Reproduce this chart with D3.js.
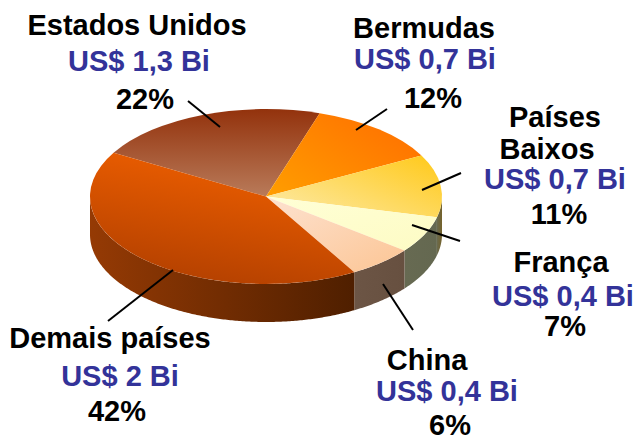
<!DOCTYPE html>
<html>
<head>
<meta charset="utf-8">
<script src="https://cdn.jsdelivr.net/npm/d3@7"></script>
<style>
  html, body { margin: 0; padding: 0; background: #fff; overflow: hidden; }
  text { font-family: "Liberation Sans", Arial, sans-serif; font-weight: bold; text-anchor: middle; }
</style>
</head>
<body>
<script>
// values
const countries = ["Estados Unidos", "Bermudas", "Países Baixos", "França", "China", "Demais países"];
const amounts = ["US$ 1,3 Bi", "US$ 0,7 Bi", "US$ 0,7 Bi", "US$ 0,4 Bi", "US$ 0,4 Bi", "US$ 2 Bi"];
const percentLabels = ["22%", "12%", "11%", "7%", "6%", "42%"];
const shares = [21.6, 12.3, 11.6, 6.75, 6.05, 41.7];

const width = 635, height = 435;
const cx = 266, cy = 196.5, rx = 176, ry = 87.5, depth = 38;
const rad = Math.PI / 180;
const startAngle = 300 * rad;

// top face gradients: [x1, y1, x2, y2, from, to]
const topFill = [
  [0, 0, 0, 1, "#93320c", "#b97b5a"],
  [1, 0.1, 0, 0.9, "#ff6e00", "#ff9c00"],
  [1, 0.1, 0, 0.9, "#ffca1e", "#fdeaa6"],
  [0, 0, 1, 1, "#ffffd6", "#fdfbc4"],
  [0, 0, 1, 1, "#fde2d0", "#fcc594"],
  [0.62, 0.2, 0.35, 1, "#e55a00", "#b34000"]
];
// side wall gradients, left to right
const sideFill = [
  null,
  null,
  ["#6a6a4e", "#75622a"],
  ["#676a52", "#646850"],
  ["#6c5545", "#675040"],
  ["#953a04", "#4f1f00"]
];

// leader lines and label placement, px on the page
const leaders = [
  [188, 101, 220, 127],
  [387, 109, 356, 130],
  [461, 173, 422, 190],
  [460, 241, 412, 225],
  [413, 330, 383, 284],
  [108, 321, 173, 270]
];
const nameRows = [
  [["Estados Unidos", 137, 35]],
  [["Bermudas", 424, 38]],
  [["Países", 555, 127], ["Baixos", 547, 159]],
  [["França", 561, 272]],
  [["China", 427, 370]],
  [["Demais países", 110, 348]]
];
const amountPos = [[139, 71], [425, 69], [555, 189], [563, 306], [447, 401], [120, 386]];
const percentPos = [[145, 109], [433, 108], [559, 224], [565, 336], [450, 435], [117, 421]];

const svg = d3.select("body").append("svg")
  .attr("width", width)
  .attr("height", height)
  .style("display", "block");

const defs = svg.append("defs");

const pie = d3.pie()
  .sort(null)
  .value(d => d)
  .startAngle(startAngle)
  .endAngle(startAngle + 2 * Math.PI);

const slices = pie(shares);

topFill.forEach((g, i) => {
  let grad = defs.append("linearGradient")
    .attr("id", "top" + i)
    .attr("x1", g[0]).attr("y1", g[1])
    .attr("x2", g[2]).attr("y2", g[3]);
  grad.append("stop").attr("offset", 0).attr("stop-color", g[4]);
  grad.append("stop").attr("offset", 1).attr("stop-color", g[5]);
});

sideFill.forEach((g, i) => {
  if (!g) return;
  let grad = defs.append("linearGradient")
    .attr("id", "side" + i)
    .attr("x1", 0).attr("y1", 0)
    .attr("x2", 1).attr("y2", 0);
  grad.append("stop").attr("offset", 0).attr("stop-color", g[0]);
  grad.append("stop").attr("offset", 1).attr("stop-color", g[1]);
});

// side wall, only the part of the rim facing the viewer (90 to 270 degrees)
let rimPoint = (a, dy) => [cx + rx * Math.sin(a), cy - ry * Math.cos(a) + dy];

let sidePath = (s) => {
  // slices are laid out from 300 degrees, so bring angles back into 0..360
  let a0 = s.startAngle % (2 * Math.PI), a1 = a0 + (s.endAngle - s.startAngle);
  let from = Math.max(a0, 90 * rad), to = Math.min(a1, 270 * rad);
  if (to <= from) return null;
  let angles = d3.range(from, to, 0.01).concat([to]);
  let upper = angles.map(a => rimPoint(a, 0));
  let lower = angles.map(a => rimPoint(a, depth)).reverse();
  return d3.line()(upper.concat(lower)) + "Z";
};

svg.append("g")
  .selectAll("path")
  .data(slices)
  .enter()
  .append("path")
  .attr("d", d => sidePath(d))
  .attr("fill", (d, i) => "url(#side" + i + ")");

// top face, a circle arc squashed into the ellipse
let arc = d3.arc().innerRadius(0).outerRadius(rx);

svg.append("g")
  .attr("transform", `translate(${cx},${cy}) scale(1,${ry / rx})`)
  .selectAll("path")
  .data(slices)
  .enter()
  .append("path")
  .attr("d", arc)
  .attr("fill", (d, i) => "url(#top" + i + ")");

svg.append("g")
  .selectAll("line")
  .data(leaders)
  .enter()
  .append("line")
  .attr("x1", d => d[0]).attr("y1", d => d[1])
  .attr("x2", d => d[2]).attr("y2", d => d[3])
  .attr("stroke", "#000")
  .attr("stroke-width", 2);

let labels = svg.append("g").attr("font-size", 29);

countries.forEach((c, i) => {
  nameRows[i].forEach(r => {
    labels.append("text").attr("x", r[1]).attr("y", r[2]).attr("fill", "#000").text(r[0]);
  });
  labels.append("text")
    .attr("x", amountPos[i][0]).attr("y", amountPos[i][1])
    .attr("fill", "#333399")
    .text(amounts[i]);
  labels.append("text")
    .attr("x", percentPos[i][0]).attr("y", percentPos[i][1])
    .attr("fill", "#000")
    .text(percentLabels[i]);
});
</script>
</body>
</html>
